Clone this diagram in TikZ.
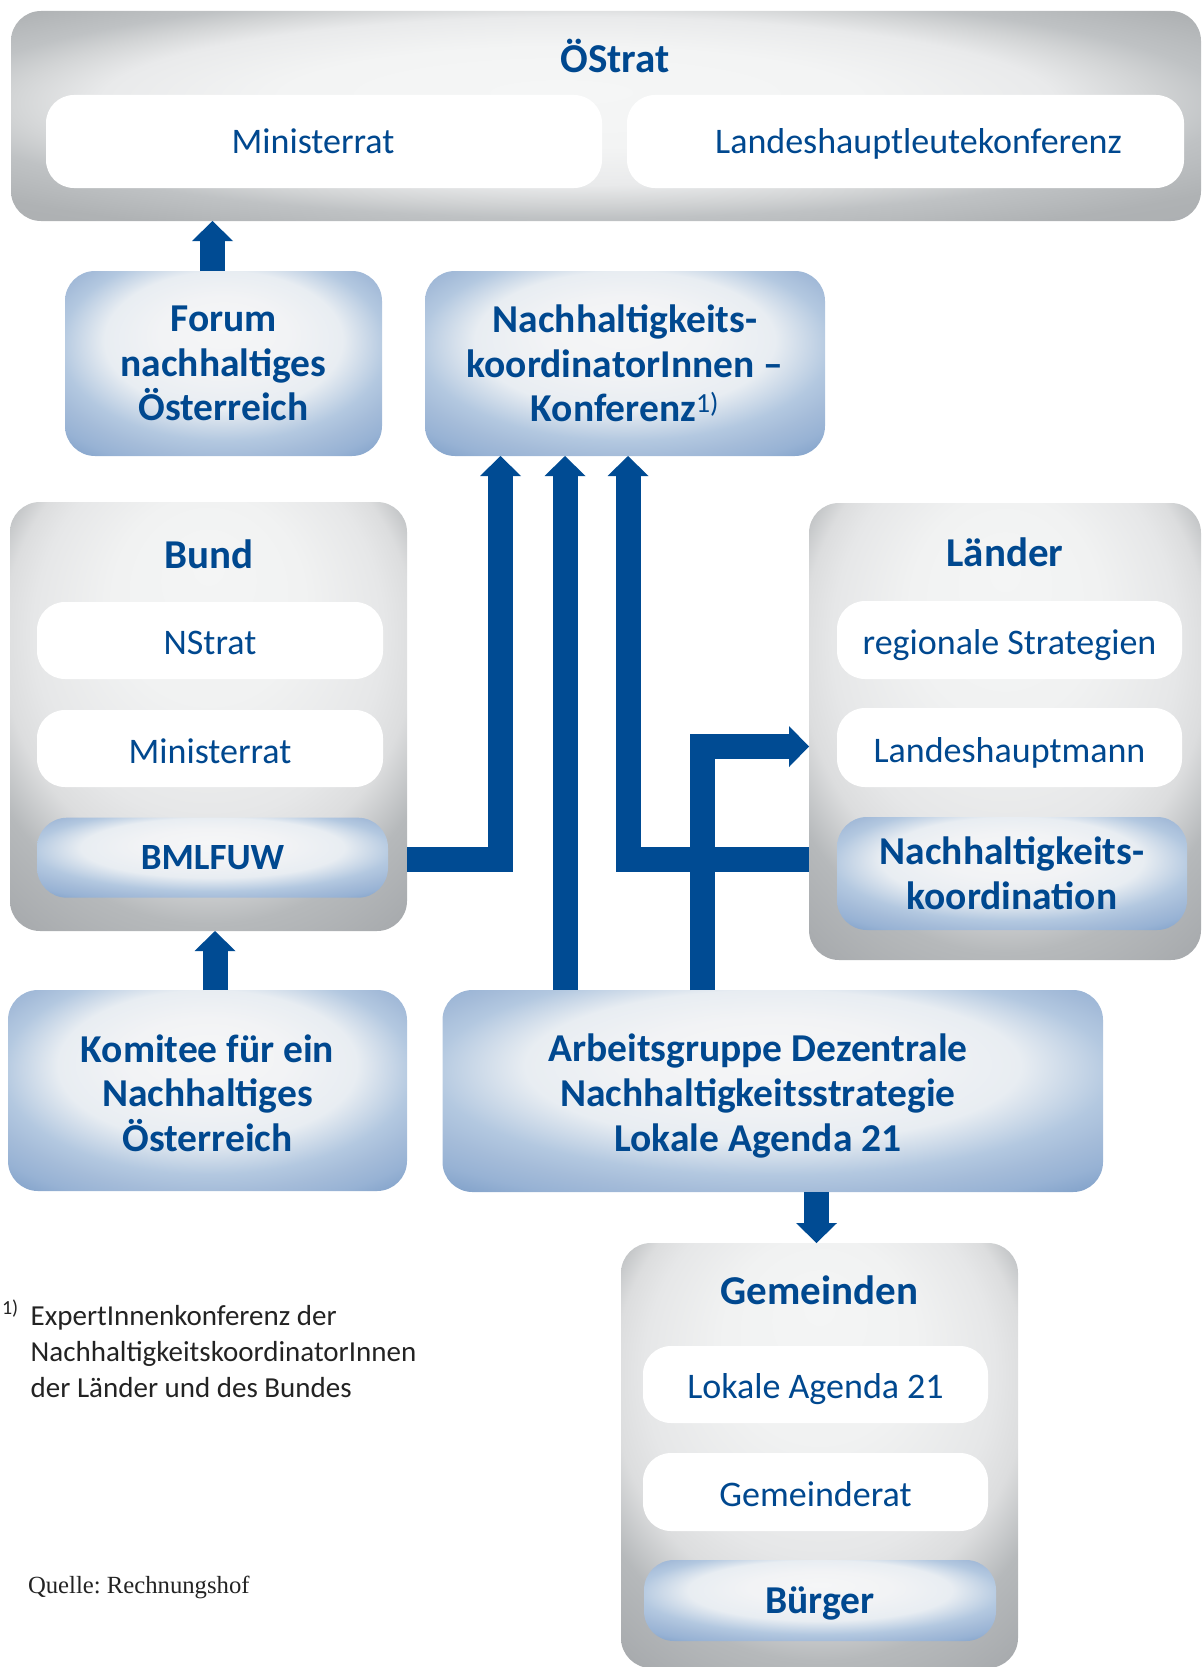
\documentclass[tikz,border=0pt]{standalone}
\usepackage{fontspec}
\setmainfont{Carlito}
\newfontfamily\rhserif{Liberation Serif}
\usetikzlibrary{arrows.meta}
\frenchspacing
\definecolor{rhblue}{RGB}{0,75,147}
\definecolor{rhtext}{RGB}{0,72,143}
\definecolor{rhdark}{RGB}{35,35,35}
% gray glow
\definecolor{gg0}{HTML}{F4F5F5}
\definecolor{gg0a}{HTML}{F1F2F2}
\definecolor{gg1}{HTML}{E6E7E8}
\definecolor{gg2}{HTML}{DCDDDE}
\definecolor{gg3}{HTML}{B6B9BB}
\definecolor{gg4}{HTML}{A6A9AC}
% OeStrat glow
\definecolor{og0}{HTML}{F5F6F6}
\definecolor{og1}{HTML}{F3F4F4}
\definecolor{og2}{HTML}{E9EAEB}
\definecolor{og3}{HTML}{D2D4D5}
\definecolor{og4}{HTML}{BFC2C4}
\definecolor{og5}{HTML}{AFB2B4}
\definecolor{og6}{HTML}{A5A8AB}
% blue glow
\definecolor{bg0}{HTML}{F5F6F7}
\definecolor{bg1}{HTML}{F2F3F5}
\definecolor{bg2}{HTML}{E8EDF2}
\definecolor{bg3}{HTML}{B3C8E0}
\definecolor{bg4}{HTML}{A5BCD9}
\definecolor{bg5}{HTML}{97B2D4}
\definecolor{bg6}{HTML}{7E9FC8}
\definecolor{bg7}{HTML}{7094C3}
\pgfdeclareradialshading{grayglow}{\pgfpoint{0bp}{18bp}}{color(0bp)=(gg0); color(12bp)=(gg0a); color(22bp)=(gg1); color(26bp)=(gg2); color(31bp)=(gg3); color(38bp)=(gg4); color(50bp)=(gg4)}
\pgfdeclareradialshading{ostratglow}{\pgfpoint{-2bp}{6bp}}{color(0bp)=(og0); color(12bp)=(og1); color(20bp)=(og2); color(24bp)=(og3); color(27bp)=(og4); color(33bp)=(og5); color(50bp)=(og6)}
\pgfdeclareradialshading{blueglow}{\pgfpoint{0bp}{10bp}}{color(0bp)=(bg0); color(10bp)=(bg1); color(18.75bp)=(bg2); color(25.7bp)=(bg3); color(29.2bp)=(bg4); color(33bp)=(bg5); color(37.3bp)=(bg6); color(50bp)=(bg7)}
\newcommand\rhtitle{\fontsize{41}{49}\selectfont\bfseries}
\newcommand\rhreg{\fontsize{36}{43}\selectfont}
\newcommand\rhbold{\fontsize{39.5}{44.6}\selectfont\bfseries}
\tikzset{
  container/.style={shade, shading=grayglow, rounded corners=30pt},
  wbox/.style={fill=white, rounded corners=28pt, text=rhtext, font=\rhreg, text height=29.5pt, text depth=0pt},
  bbox/.style={shade, shading=blueglow, rounded corners=30pt, text=rhtext, font=\rhbold, align=center},
  boxtext/.style={text=rhtext, font=\rhbold, align=center},
  titletext/.style={text=rhtext, font=\rhtitle, text height=26.4pt, text depth=0pt},
  flow/.style={draw=rhblue, line width=25pt, line join=miter, -{Triangle[width=41pt,length=20pt,line width=0pt]}}
}
\begin{document}
\begin{tikzpicture}[x=1pt,y=-1pt, every node/.append style={inner sep=0pt, outer sep=0pt}]
\path[use as bounding box, clip] (0,0) rectangle (1202,1667);

% OeStrat
\node[container, shading=ostratglow, minimum width=1190pt, minimum height=210pt] (ostrat) at (606,116) {};
\node[titletext] (ostrat-t) at (615,59) {ÖStrat};
\node[wbox, text height=24pt, minimum width=556pt, minimum height=93pt] (ost-mr) at (324,141.5) {Ministerrat\hspace*{22pt}};
\node[wbox, text height=24pt, minimum width=557pt, minimum height=93pt] (ost-lhk) at (905.5,141.5) {\hspace*{26pt}Landeshauptleutekonferenz};

% second row
\node[bbox, minimum width=317pt, minimum height=185pt] (forum) at (223.5,363.5) {Forum\\nachhaltiges\\Österreich};
\node[bbox, minimum width=400pt, minimum height=185pt] (nkk) at (625,363.5) {Nachhaltigkeits-\\koordinatorInnen –\\Konferenz{\mdseries\textsuperscript{1)}}};

% Bund
\node[container, minimum width=397pt, minimum height=429pt] (bund) at (208.5,716.5) {};
\node[titletext] (bund-t) at (208.5,555) {Bund};
\node[wbox, text height=28.5pt, minimum width=346pt, minimum height=77pt] (nstrat) at (210,640.5) {NStrat};
\node[wbox, minimum width=346pt, minimum height=77pt] (bund-mr) at (210,748.5) {Ministerrat};
\node[bbox, minimum width=351pt, minimum height=80pt, font=\fontsize{37}{44}\selectfont\bfseries, text height=24pt, text depth=0pt] (bmlfuw) at (212.5,857.7) {BMLFUW};

% Laender
\node[container, minimum width=392pt, minimum height=457pt] (laender) at (1005,731.5) {};
\node[titletext] (laender-t) at (1005,553.5) {Länder};
\node[wbox, text height=28.5pt, minimum width=345pt, minimum height=78pt] (regio) at (1009.5,640) {regionale Strategien};
\node[wbox, minimum width=345pt, minimum height=79pt] (lhm) at (1009.5,747.5) {Landeshauptmann};
\node[bbox, minimum width=350pt, minimum height=113pt] (nko) at (1012,873.5) {Nachhaltigkeits-\\koordination};

% bottom row
\node[bbox, minimum width=399pt, minimum height=201pt] (komitee) at (207.5,1090.5) {};
\node[boxtext] (komitee-t) at (207.5,1093) {Komitee für ein\\Nachhaltiges\\Österreich};
\node[bbox, minimum width=660.5pt, minimum height=202pt] (ag) at (772.75,1091) {};
\node[boxtext] (ag-t) at (758,1096) {Arbeitsgruppe Dezentrale\\Nachhaltigkeitsstrategie\\Lokale Agenda 21};

% Gemeinden
\node[container, minimum width=397pt, minimum height=425pt] (gem) at (819.5,1455.5) {};
\node[titletext] (gem-t) at (819.5,1291.7) {Gemeinden};
\node[wbox, text height=28.5pt, minimum width=345pt, minimum height=77pt] (la21) at (815.5,1384.5) {Lokale Agenda 21};
\node[wbox, minimum width=345pt, minimum height=78pt] (gemrat) at (815.5,1492) {Gemeinderat};
\node[bbox, minimum width=352pt, minimum height=81pt, text height=25pt, text depth=0pt] (buerger) at (820,1600.5) {Bürger};

% footnote and source
\node[anchor=base west, text=rhdark, font=\fontsize{20}{24}\selectfont] (fn-mark) at (2,1314) {1)};
\node[anchor=base west, text=rhdark, font=\fontsize{29}{36}\selectfont, align=left] (fn) at (30.7,1397) {ExpertInnenkonferenz der\\NachhaltigkeitskoordinatorInnen\\der Länder und des Bundes};
\node[anchor=base west, text=rhdark, font=\rhserif\fontsize{24.7}{30}\selectfont] (quelle) at (28,1593) {Quelle: Rechnungshof};

% connectors
\coordinate (a1) at (212.5,245);
\coordinate (a2) at (215,960);
\coordinate (c1) at (500.5,859.5);
\coordinate (c2) at (565,700);
\coordinate (c3) at (628,859.5);
\coordinate (c4) at (702,746.5);
\coordinate (c5) at (816.5,1220);
\draw[flow] (forum.north -| a1) -- (ostrat.south -| a1);
\draw[flow] (komitee.north -| a2) -- (bund.south -| a2);
\draw[flow] (bund.east |- c1) -| (nkk.south -| c1);
\draw[flow] (ag.north -| c2) -- (nkk.south -| c2);
\draw[flow] (laender.west |- c3) -| (nkk.south -| c3);
\draw[flow] (ag.north -| c4) |- (laender.west |- c4);
\draw[flow] (ag.south -| c5) -- (gem.north -| c5);
\end{tikzpicture}
\end{document}
